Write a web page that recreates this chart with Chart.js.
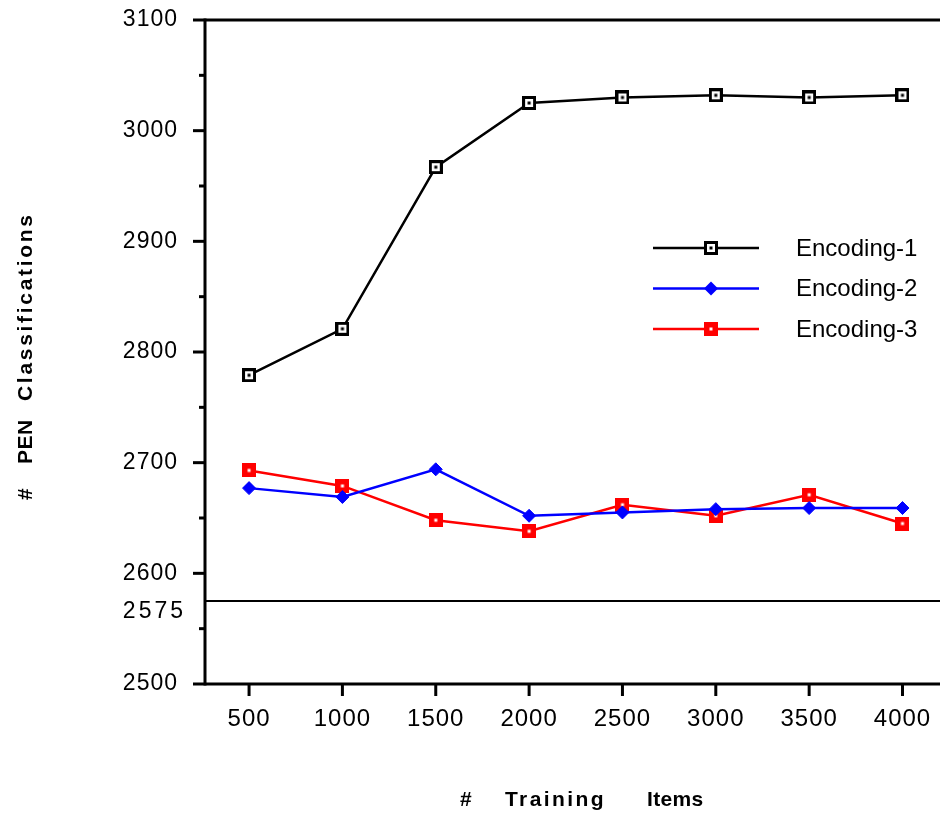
<!DOCTYPE html>
<html>
<head>
<meta charset="utf-8">
<script src="https://cdn.jsdelivr.net/npm/chart.js@4/dist/chart.umd.min.js"></script>
<style>
  body { margin: 0; background: #fff; }
  canvas { display: block; }
</style>
</head>
<body>
<canvas id="grafico" width="940" height="815"></canvas>
<script>
// training items on the x axis
const itens = [500, 1000, 1500, 2000, 2500, 3000, 3500, 4000];
const encoding1 = [2779, 2821, 2967, 3025, 3030, 3032, 3030, 3032];
const encoding2 = [2677, 2669, 2694, 2652, 2655, 2658, 2659, 2659];
const encoding3 = [2693, 2679, 2648, 2638, 2662, 2652, 2671, 2645];
const ticksY = [2500, 2550, 2600, 2650, 2700, 2750, 2800, 2850, 2900, 2950, 3000, 3050, 3100];
const linhaBase = 2575;
const nomes = ['Encoding-1', 'Encoding-2', 'Encoding-3'];
const fonte = '"Liberation Sans", Arial, sans-serif';

// marcadores quadrados com ponto no meio
function quadrado(fundo, borda, ponto) {
    const c = document.createElement('canvas');
    c.width = 14; c.height = 14;
    const g = c.getContext('2d');
    g.fillStyle = borda;
    g.fillRect(0, 0, 14, 14);
    g.fillStyle = fundo;
    g.fillRect(3, 3, 8, 8);
    g.fillStyle = ponto;
    g.fillRect(5.5, 5.5, 3, 3);
    return c;
}
const marcaPreta = quadrado('#fff', '#000', '#000');
const marcaVermelha = quadrado('#f00', '#f00', '#fff');

function pares(valores) {
    return itens.map((x, i) => ({ x: x, y: valores[i] }));
}

// escreve as palavras de um titulo, cada uma a partir da sua posicao
function palavras(ctx, lista) {
    lista.forEach(p => {
        ctx.letterSpacing = p[2] + 'px';
        ctx.fillText(p[0], p[1], 0);
    });
}

const eixos = {
    id: 'eixos',
    beforeDraw(chart) {
        chart.ctx.letterSpacing = '1px';
    },
    afterDraw(chart) {
        const ctx = chart.ctx;
        const a = chart.chartArea;
        const sx = chart.scales.x;
        const sy = chart.scales.y;
        ctx.save();
        ctx.strokeStyle = '#000';
        ctx.lineWidth = 3;
        ctx.lineCap = 'butt';
        // eixo y
        ctx.beginPath();
        ctx.moveTo(a.left, a.top - 1.5);
        ctx.lineTo(a.left, a.bottom + 1.5);
        ctx.stroke();
        // linha de cima e eixo x
        ctx.beginPath();
        ctx.moveTo(a.left - 12, sy.getPixelForValue(3100));
        ctx.lineTo(chart.width, sy.getPixelForValue(3100));
        ctx.moveTo(a.left - 12, sy.getPixelForValue(2500));
        ctx.lineTo(chart.width, sy.getPixelForValue(2500));
        ctx.stroke();
        // ticks do eixo y
        ticksY.forEach(v => {
            if (v === 2500 || v === 3100) return;
            const y = sy.getPixelForValue(v);
            const len = v % 100 === 0 ? 12 : 6;
            ctx.beginPath();
            ctx.moveTo(a.left - len, y);
            ctx.lineTo(a.left, y);
            ctx.stroke();
        });
        // ticks do eixo x
        itens.forEach(v => {
            const x = sx.getPixelForValue(v);
            ctx.beginPath();
            ctx.moveTo(x, a.bottom);
            ctx.lineTo(x, a.bottom + 12);
            ctx.stroke();
        });
        // linha 2575
        ctx.lineWidth = 2;
        const yb = sy.getPixelForValue(linhaBase);
        ctx.beginPath();
        ctx.moveTo(a.left, yb);
        ctx.lineTo(chart.width, yb);
        ctx.stroke();
        ctx.fillStyle = '#000';
        ctx.font = '23px ' + fonte;
        ctx.letterSpacing = '3px';
        ctx.textAlign = 'right';
        ctx.textBaseline = 'middle';
        ctx.fillText(String(linhaBase), 186, yb + 11);

        // titulos dos eixos
        ctx.font = 'bold 21px ' + fonte;
        ctx.textAlign = 'left';
        ctx.save();
        ctx.translate(26, 0);
        ctx.rotate(-Math.PI / 2);
        palavras(ctx, [['#', -500, 0], ['PEN', -464, 0.5], ['Classifications', -401, 2.7]]);
        ctx.restore();
        ctx.save();
        ctx.translate(0, 800);
        palavras(ctx, [['#', 460, 0], ['Training', 505, 2.4], ['Items', 647, 0.3]]);
        ctx.restore();

        // legenda
        const cores = ['#000', '#0000ff', '#ff0000'];
        ctx.font = '24px ' + fonte;
        ctx.letterSpacing = '0px';
        ctx.textAlign = 'left';
        nomes.forEach((nome, i) => {
            const y = 248 + i * 40.5;
            ctx.strokeStyle = cores[i];
            ctx.lineWidth = 2.5;
            ctx.beginPath();
            ctx.moveTo(653, y);
            ctx.lineTo(759, y);
            ctx.stroke();
            if (i === 1) {
                ctx.fillStyle = cores[i];
                ctx.beginPath();
                ctx.moveTo(711, y - 7);
                ctx.lineTo(718, y);
                ctx.lineTo(711, y + 7);
                ctx.lineTo(704, y);
                ctx.closePath();
                ctx.fill();
            } else {
                ctx.drawImage(i === 0 ? marcaPreta : marcaVermelha, 704, y - 7);
            }
            ctx.fillStyle = '#000';
            ctx.fillText(nome, 796, y + 1);
        });
        ctx.restore();
    }
};

const grafico = new Chart(document.getElementById('grafico'), {
    type: 'line',
    data: {
        datasets: [
            {
                label: nomes[0],
                data: pares(encoding1),
                borderColor: '#000',
                borderWidth: 2.5,
                pointStyle: marcaPreta,
                pointRadius: 7
            },
            {
                label: nomes[1],
                data: pares(encoding2),
                borderColor: '#0000ff',
                backgroundColor: '#0000ff',
                borderWidth: 2.5,
                pointStyle: 'rectRot',
                pointRadius: 6.5,
                pointBorderWidth: 1
            },
            {
                label: nomes[2],
                data: pares(encoding3),
                borderColor: '#ff0000',
                borderWidth: 2.5,
                pointStyle: marcaVermelha,
                pointRadius: 7
            }
        ]
    },
    options: {
        responsive: false,
        animation: false,
        layout: { padding: { top: 20, right: 0, left: 0, bottom: 0 } },
        plugins: {
            legend: { display: false },
            tooltip: { enabled: false }
        },
        scales: {
            x: {
                type: 'linear',
                min: 264,
                max: 4150,
                afterBuildTicks: s => { s.ticks = itens.map(v => ({ value: v })); },
                afterFit: s => { s.height = 131; s.paddingLeft = 0; s.paddingRight = 0; },
                grid: { display: false },
                border: { display: false },
                ticks: {
                    padding: 13,
                    color: '#000',
                    maxRotation: 0,
                    font: { family: fonte, size: 24 },
                    callback: v => String(v)
                }
            },
            y: {
                min: 2500,
                max: 3100,
                afterBuildTicks: s => { s.ticks = ticksY.map(v => ({ value: v })); },
                afterFit: s => { s.width = 205; s.paddingTop = 0; s.paddingBottom = 0; },
                grid: { display: false },
                border: { display: false },
                ticks: {
                    padding: 19,
                    color: '#000',
                    font: { family: fonte, size: 23 },
                    callback: v => v % 100 === 0 ? String(v) : ''
                }
            }
        }
    },
    plugins: [eixos]
});
</script>
</body>
</html>
